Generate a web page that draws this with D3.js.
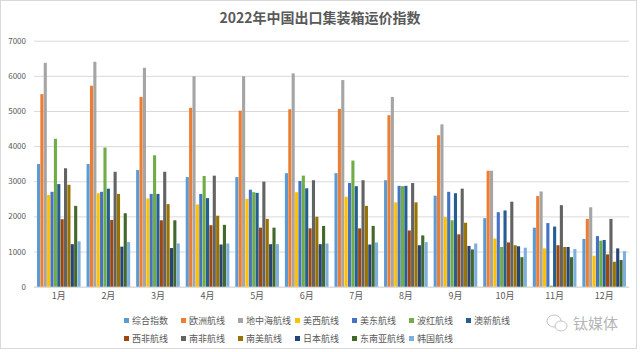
<!DOCTYPE html>
<html>
<head>
<meta charset="utf-8">
<script src="https://cdn.jsdelivr.net/npm/d3@7"></script>
<style>
  body { margin: 0; background: #fff; }
  svg { display: block; font-family: "Noto Sans CJK SC", "Noto Sans", sans-serif; }
</style>
</head>
<body>
<div id="chart"></div>
<script>
// months and series
var months = ["1月", "2月", "3月", "4月", "5月", "6月", "7月", "8月", "9月", "10月", "11月", "12月"];
var seriesNames = ["综合指数", "欧洲航线", "地中海航线", "美西航线", "美东航线", "波红航线", "澳新航线",
  "西非航线", "南非航线", "南美航线", "日本航线", "东南亚航线", "韩国航线"];
var seriesColors = ["#5B9BD5", "#ED7D31", "#A5A5A5", "#FFC000", "#4472C4", "#70AD47", "#255E91",
  "#9E480E", "#636363", "#997300", "#264478", "#43682B", "#7CAFDD"];
var yTicks = [0, 1000, 2000, 3000, 4000, 5000, 6000, 7000];

// values
var zonghe = [3490, 3490, 3320, 3120, 3120, 3230, 3230, 3030, 2590, 1950, 1680, 1360];
var ouzhou = [5480, 5720, 5400, 5090, 5010, 5050, 5060, 4880, 4310, 3300, 2580, 1930];
var dizhonghai = [6370, 6400, 6230, 5990, 5990, 6070, 5880, 5400, 4620, 3300, 2710, 2260];
var meixi = [2610, 2660, 2510, 2340, 2500, 2690, 2560, 2400, 1980, 1370, 1090, 880];
var meidong = [2700, 2700, 2640, 2640, 2760, 3010, 2950, 2870, 2700, 2120, 1810, 1440];
var bohong = [4210, 3960, 3740, 3150, 2690, 3160, 3590, 2860, 1890, 1130, 30, 1310];
var aoxin = [2920, 2790, 2640, 2520, 2670, 2800, 2860, 2870, 2660, 2170, 1710, 1330];
var xifei = [1920, 1900, 1890, 1750, 1680, 1660, 1660, 1600, 1490, 1260, 1180, 920];
var nanfei = [3370, 3270, 3270, 3160, 2990, 3030, 3030, 2950, 2790, 2420, 2320, 1930];
var nanmei = [2900, 2640, 2350, 2020, 1930, 1990, 2300, 2400, 1820, 1180, 1130, 710];
var riben = [1210, 1140, 1100, 1200, 1210, 1210, 1200, 1180, 1160, 1150, 1130, 1090];
var dongnanya = [2300, 2090, 1890, 1760, 1680, 1730, 1730, 1460, 1060, 840, 840, 760];
var hanguo = [1290, 1270, 1230, 1230, 1210, 1230, 1260, 1270, 1230, 1110, 1070, 1010];

var seriesValues = [zonghe, ouzhou, dizhonghai, meixi, meidong, bohong, aoxin,
  xifei, nanfei, nanmei, riben, dongnanya, hanguo];

var width = 640, height = 352;
var plot = { left: 34, right: 629, top: 40.7, bottom: 286.7 };

var svg = d3.select("#chart").append("svg")
  .attr("width", width)
  .attr("height", height);

// outer frame
svg.append("rect")
  .attr("x", 0.5).attr("y", 0.5)
  .attr("width", 636).attr("height", 348)
  .attr("fill", "#fff")
  .attr("stroke", "#d9d9d9");

// title
svg.append("text")
  .attr("x", 320).attr("y", 23)
  .attr("text-anchor", "middle")
  .attr("font-size", 14)
  .attr("font-weight", "bold")
  .attr("fill", "#595959")
  .text("2022年中国出口集装箱运价指数");

var x0 = d3.scaleBand()
  .domain(months)
  .range([plot.left, plot.right])
  .paddingInner(0.12)
  .paddingOuter(0.06);

var x1 = d3.scaleBand()
  .domain(seriesNames)
  .range([0, x0.bandwidth()])
  .paddingInner(0.08);

var y = d3.scaleLinear().domain([0, 7000]).range([plot.bottom, plot.top]);

// gridlines + y labels
var yAxis = svg.append("g")
  .attr("transform", "translate(" + plot.left + ",0)")
  .call(d3.axisLeft(y).tickValues(yTicks).tickFormat(d3.format("d"))
    .tickSize(-(plot.right - plot.left)).tickPadding(8));
yAxis.select(".domain").remove();
yAxis.selectAll(".tick line").attr("stroke", "#d9d9d9");
yAxis.selectAll(".tick text")
  .attr("font-size", 8)
  .attr("fill", "#595959")
  .attr("font-family", "\"Noto Sans CJK SC\", sans-serif");

// x labels
var xAxis = svg.append("g")
  .attr("transform", "translate(0," + plot.bottom + ")")
  .call(d3.axisBottom(x0).tickSize(0).tickPadding(6));
xAxis.select(".domain").attr("stroke", "#d9d9d9");
xAxis.selectAll(".tick text")
  .attr("font-size", 9)
  .attr("fill", "#595959")
  .attr("font-family", "\"Noto Sans CJK SC\", sans-serif");

// bars
svg.append("g")
  .selectAll("g")
  .data(months)
  .join("g")
  .attr("transform", function (m) { return "translate(" + x0(m) + ",0)"; })
  .selectAll("rect")
  .data(function (m, i) {
    return seriesNames.map(function (s, k) { return { key: s, value: seriesValues[k][i], color: seriesColors[k] }; });
  })
  .join("rect")
  .attr("x", function (d) { return x1(d.key); })
  .attr("y", function (d) { return y(d.value); })
  .attr("width", x1.bandwidth())
  .attr("height", function (d) { return y(0) - y(d.value); })
  .attr("fill", function (d) { return d.color; });

// legend, two rows
var legend = svg.append("g")
  .attr("font-size", 9)
  .attr("fill", "#595959")
  .selectAll("g")
  .data(seriesNames)
  .join("g")
  .attr("transform", function (d, i) {
    var row = i < 7 ? 0 : 1;
    var col = i < 7 ? i : i - 7;
    return "translate(" + (124 + col * 57) + "," + (321 + row * 18) + ")";
  });

legend.append("rect")
  .attr("x", 0).attr("y", -3)
  .attr("width", 5).attr("height", 5)
  .attr("fill", function (d, i) { return seriesColors[i]; });

legend.append("text")
  .attr("x", 8)
  .attr("dy", "0.35em")
  .text(function (d) { return d; });

// watermark
var wm = svg.append("g").attr("transform", "translate(548,323)")
  .attr("fill", "none").attr("stroke", "#c4c4c4").attr("stroke-width", 1);
wm.append("ellipse").attr("cx", 6).attr("cy", -2).attr("rx", 7).attr("ry", 6);
wm.append("ellipse").attr("cx", 13).attr("cy", 3).attr("rx", 6).attr("ry", 5).attr("fill", "#fff");
svg.append("text")
  .attr("x", 573).attr("y", 329)
  .attr("font-size", 15)
  .attr("fill", "#b5b5b5")
  .text("钛媒体");
</script>
</body>
</html>
